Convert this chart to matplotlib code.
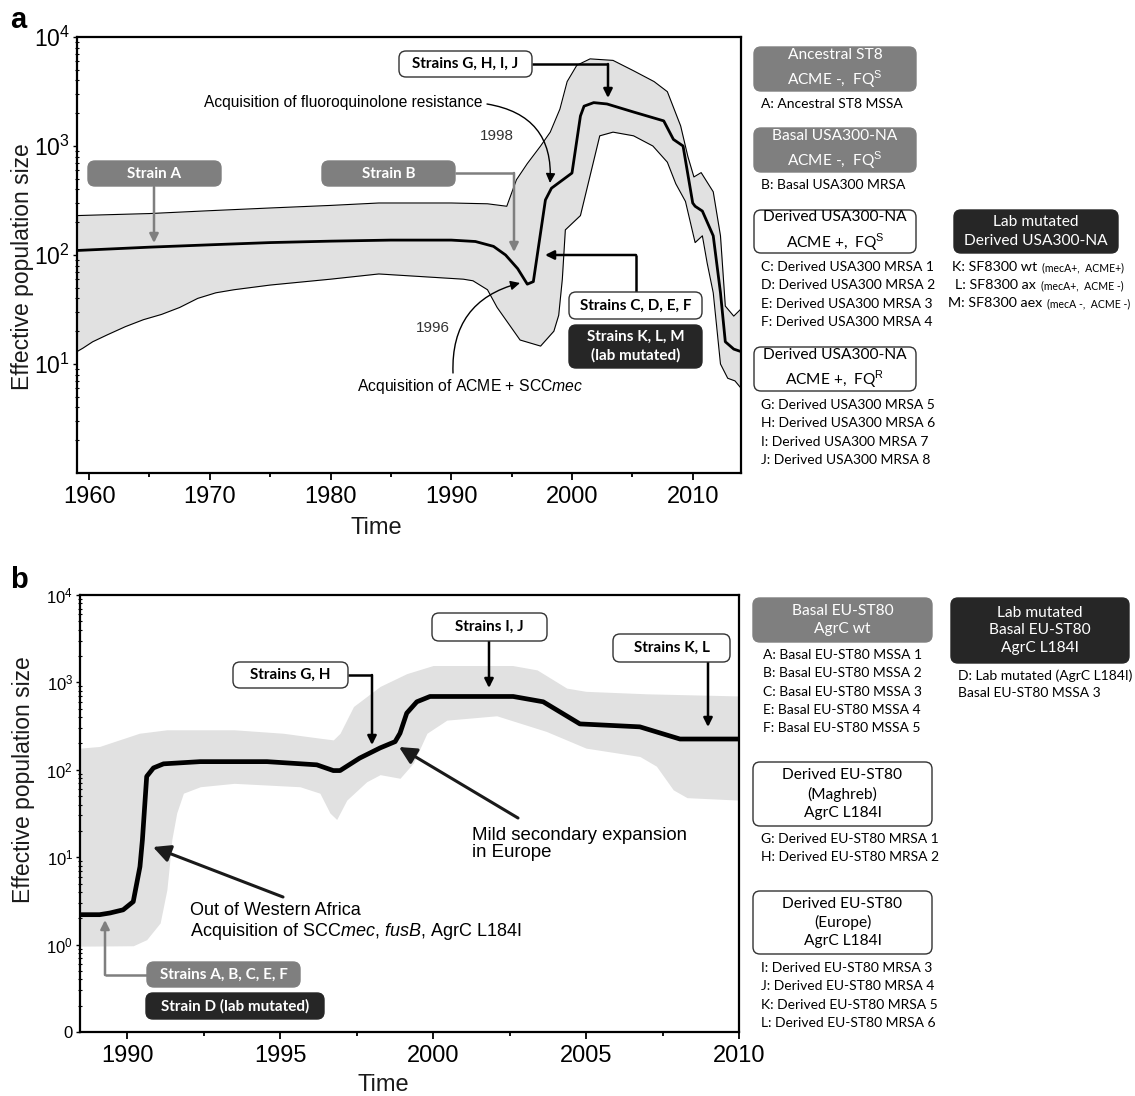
import matplotlib
matplotlib.use("Agg")
import matplotlib.pyplot as plt
from matplotlib.patches import FancyBboxPatch
from matplotlib.ticker import FixedLocator, MultipleLocator, LogLocator, NullFormatter, FixedFormatter
import numpy as np

plt.rcParams['font.family'] = ['Liberation Sans', 'DejaVu Sans']
plt.rcParams['mathtext.fontset'] = 'custom'
plt.rcParams['mathtext.rm'] = 'Liberation Sans'
plt.rcParams['mathtext.it'] = 'Liberation Sans:italic'
plt.rcParams['mathtext.bf'] = 'Liberation Sans:bold'

BOXFONT = ['Lato', 'DejaVu Sans']

# ---------------- Panel a data (USA300) ----------------
a_med_year = [1959, 1965, 1970, 1975, 1980, 1985, 1990, 1992, 1993.5, 1994.5, 1995.5, 1996.3, 1996.8,
              1997.8, 1998.3, 2000.0, 2000.7, 2001.0, 2001.8, 2002.9, 2005.1, 2007.6, 2008.4, 2009.2,
              2010.0, 2010.2, 2010.8, 2011.7, 2012.3, 2012.7, 2013.4, 2014]
a_med_val = [110, 118, 124, 130, 134, 137, 137, 133, 120, 100, 75, 54, 57,
             320, 410, 565, 1885, 2320, 2500, 2430, 2050, 1700, 1150, 1000,
             300, 280, 253, 150, 45, 16, 13.7, 13]

a_up_year = [1959, 1965, 1970, 1975, 1980, 1984, 1990, 1993, 1994.6, 1995.4, 1996.3, 1997.4, 1998.2,
             1999.0, 1999.6, 2000.4, 2001.5, 2003.4, 2005.1, 2006.8, 2007.9, 2009.0, 2009.6, 2010.1,
             2010.7, 2011.7, 2012.3, 2012.7, 2013.4, 2014]
a_up_val = [230, 240, 255, 270, 285, 300, 300, 295, 280, 490, 690, 1000, 1340,
            2180, 3900, 5500, 6300, 6100, 4900, 3900, 3150, 1530, 800, 520,
            570, 380, 150, 34, 27.5, 32]

a_lo_year = [1959, 1959.5, 1960.3, 1961.5, 1963, 1964.5, 1966, 1967.5, 1969, 1970.5, 1972, 1975, 1980,
             1984, 1991.0, 1991.8, 1993.0, 1993.8, 1995.7, 1997.4, 1998.5, 1998.9, 1999.2, 1999.45,
             2000.7, 2002.3, 2003.4, 2005.1, 2006.7, 2007.9, 2008.6, 2009.4, 2010.2, 2010.8, 2011.2,
             2011.7, 2012.3, 2012.9, 2013.5, 2014]
a_lo_val = [13, 14, 16, 18.5, 22, 25.5, 28.5, 33, 40, 45, 48, 53, 60,
            67, 60, 58, 48, 33, 16.6, 14.6, 20, 28, 60, 170,
            230, 1240, 1340, 1240, 1000, 710, 450, 310, 130, 150, 84,
            45, 10, 7.4, 7, 6]

# ---------------- Panel b data (EU-ST80) ----------------
b_med_year = [1988.46, 1989.1, 1989.44, 1989.87, 1990.2, 1990.42, 1990.5, 1990.64, 1990.86, 1991.19,
              1992.39, 1994.57, 1996.2, 1996.74, 1996.96, 1997.6, 1998.27, 1998.76, 1998.92, 1999.14,
              1999.47, 1999.9, 2002.62, 2003.6, 2004.8, 2006.76, 2008.07, 2010]
b_med_val = [2.2, 2.2, 2.3, 2.5, 3.1, 7.8, 15.8, 84, 105, 117,
             124, 124, 114, 98, 98, 136, 178, 210, 262, 445,
             600, 690, 690, 600, 335, 310, 225, 225]

b_up_year = [1988.46, 1989.1, 1990.4, 1991.3, 1993.5, 1995.1, 1996.3, 1996.74, 1996.96, 1997.4, 1998.27,
             1999.14, 2000.0, 2002.6, 2003.4, 2004.37, 2005.0, 2007.0, 2010]
b_up_val = [177, 185, 262, 287, 287, 262, 230, 220, 262, 530, 900,
            1260, 1560, 1560, 1390, 860, 790, 740, 700]

b_lo_year = [1988.46, 1990.2, 1990.64, 1991.08, 1991.3, 1991.4, 1991.46, 1991.62, 1991.84, 1992.39,
             1993.5, 1995.65, 1996.3, 1996.63, 1996.85, 1997.18, 1997.83, 1998.27, 1998.92, 1999.36,
             1999.8, 2000.45, 2002.08, 2003.7, 2005.0, 2006.76, 2007.3, 2007.85, 2008.3, 2010]
b_lo_val = [0.96, 0.97, 1.14, 1.77, 4.25, 9.4, 15.8, 32, 54, 64,
            70, 64, 54, 32, 27, 45, 73, 88, 80, 120,
            262, 370, 415, 275, 177, 142, 110, 59, 48, 45]

a_xticks = [1960, 1970, 1980, 1990, 2000, 2010]
b_xticks = [1990, 1995, 2000, 2005, 2010]
a_yticks = [1e1, 1e2, 1e3, 1e4]
a_ylabels = ['$10^{1}$', '$10^{2}$', '$10^{3}$', '$10^{4}$']
b_yticks = [1e-1, 1e0, 1e1, 1e2, 1e3, 1e4]
b_ylabels = ['0', '$10^{0}$', '$10^{1}$', '$10^{2}$', '$10^{3}$', '$10^{4}$']

W, H = 1135, 1096
fig = plt.figure(figsize=(W / 100, H / 100), dpi=100)
fig.patch.set_facecolor('white')

def px_axes(x0, y0, x1, y1):
    return fig.add_axes([x0 / W, 1 - y1 / H, (x1 - x0) / W, (y1 - y0) / H])

BAND = '#e1e1e1'

# ---- panel a axes ----
axa = px_axes(77, 37, 741, 473)
axa.set_yscale('log')
axa.fill_between(a_up_year, a_up_val, 1e-3, color=BAND, lw=0, zorder=1)
axa.fill_between(a_lo_year, a_lo_val, 1e-3, color='white', lw=0, zorder=1.5)
axa.plot(a_up_year, a_up_val, color='black', lw=0.8, zorder=2)
axa.plot(a_lo_year, a_lo_val, color='black', lw=0.8, zorder=2)
axa.plot(a_med_year, a_med_val, color='black', lw=2.0, zorder=3)
axa.set_xlim(1959, 2014)
axa.set_ylim(1, 1e4)

# ---- panel b axes ----
axb = px_axes(80, 595, 739, 1032)
axb.set_yscale('log')
axb.fill_between(b_up_year, b_up_val, 1e-3, color=BAND, lw=0, zorder=1)
axb.fill_between(b_lo_year, b_lo_val, 1e-3, color='white', lw=0, zorder=1.5)
axb.plot(b_med_year, b_med_val, color='black', lw=3.4, zorder=3, solid_capstyle='butt')
axb.set_xlim(1988.46, 2010)
axb.set_ylim(0.1, 1e4)

for ax, xt, yt, yl, minor_x, ysz in [(axa, a_xticks, a_yticks, a_ylabels, 5, 16.5),
                                     (axb, b_xticks, b_yticks, b_ylabels, 2.5, 12)]:
    ax.xaxis.set_major_locator(FixedLocator(xt))
    ax.xaxis.set_minor_locator(MultipleLocator(minor_x))
    ax.yaxis.set_major_locator(FixedLocator(yt))
    ax.yaxis.set_major_formatter(FixedFormatter(yl))
    ax.yaxis.set_minor_locator(LogLocator(base=10, subs=np.arange(2, 10), numticks=20))
    ax.yaxis.set_minor_formatter(NullFormatter())
    ax.tick_params(axis='x', which='major', direction='out', length=5, width=1.3, labelsize=17, pad=4)
    ax.tick_params(axis='x', which='minor', direction='out', length=3, width=1.3)
    ax.tick_params(axis='y', which='major', direction='out', length=3, width=1.0, labelsize=ysz, pad=2)
    ax.tick_params(axis='y', which='minor', direction='inout', length=2.5, width=0.8)
    for s in ax.spines.values():
        s.set_linewidth(1.6)
    ax.set_ylabel('Effective population size', fontsize=16.5, color='#1a1a1a')
    ax.set_xlabel('Time', fontsize=17, color='#1a1a1a')
    ax.xaxis.label.set_va('center')
    ax.yaxis.label.set_va('center')

axa.yaxis.set_label_coords((23 - 77) / 664, (473 - 267) / 436)
axa.xaxis.set_label_coords((376 - 77) / 664, (473 - 528) / 436)
axb.yaxis.set_label_coords((23 - 80) / 659, (1032 - 780) / 437)
axb.xaxis.set_label_coords((383 - 80) / 659, (1032 - 1085) / 437)

# ---- overlay axes in pixel coordinates for annotations ----
ov = fig.add_axes([0, 0, 1, 1], zorder=10)
ov.set_xlim(0, W)
ov.set_ylim(H, 0)
ov.axis('off')
ov.patch.set_alpha(0)

GRAY = '#7f7f7f'
DARK = '#262626'

def box(x0, y0, x1, y1, text, kind, fs=11.2, bold=False, ls=1.4):
    if kind == 'gray':
        fc, ec, tc = GRAY, GRAY, 'white'
    elif kind == 'dark':
        fc, ec, tc = DARK, DARK, 'white'
    else:
        fc, ec, tc = 'white', '#333333', 'black'
    p = FancyBboxPatch((x0, y0), x1 - x0, y1 - y0,
                       boxstyle='round,pad=0,rounding_size=7',
                       fc=fc, ec=ec, lw=1.0, zorder=20)
    ov.add_patch(p)
    ov.text((x0 + x1) / 2, (y0 + y1) / 2, text, ha='center', va='center',
            multialignment='center', color=tc, fontsize=fs, family=BOXFONT,
            fontweight='bold' if bold else 'normal', linespacing=ls, zorder=21)

def txt(x, y, s, fs=10, ha='left', family=BOXFONT, color='black', **kw):
    return ov.text(x, y, s, ha=ha, va='center', fontsize=fs, family=family, color=color, zorder=21, **kw)

def arrow(points, color='black', lw=1.6, ms=14, head='-|>'):
    xs = [p[0] for p in points]
    ys = [p[1] for p in points]
    if len(points) > 2:
        ov.plot(xs[:-1], ys[:-1], color=color, lw=lw, solid_capstyle='butt', zorder=19)
    ov.annotate('', xy=points[-1], xytext=points[-2],
                arrowprops=dict(arrowstyle=head, color=color, lw=lw, mutation_scale=ms,
                                shrinkA=0, shrinkB=0), zorder=19)

def curved(start, end, rad, color='black', lw=1.0, ms=14):
    ov.annotate('', xy=end, xytext=start,
                arrowprops=dict(arrowstyle='-|>', color=color, lw=lw, mutation_scale=ms,
                                shrinkA=0, shrinkB=0, connectionstyle='arc3,rad=%s' % rad), zorder=19)

# panel labels
ov.text(10, 20, 'a', fontsize=21, fontweight='bold', ha='left', va='center')
ov.text(10, 580, 'b', fontsize=21, fontweight='bold', ha='left', va='center')

# ---- panel a annotations ----
box(88, 161, 221, 186, 'Strain A', 'gray', fs=11, bold=True)
arrow([(154, 187), (154, 243)], color=GRAY, lw=1.8, ms=13)
box(322, 161, 455, 186, 'Strain B', 'gray', fs=11, bold=True)
arrow([(455, 173), (514, 173), (514, 252)], color=GRAY, lw=1.8, ms=13)
box(399, 51, 532, 77, 'Strains G, H, I, J', 'white', fs=11, bold=True)
arrow([(532, 64), (608, 64), (608, 98)], color='black', lw=1.8, ms=13)
box(569, 292, 702, 319, 'Strains C, D, E, F', 'white', fs=11, bold=True)
arrow([(636, 292), (636, 255), (545, 255)], color='black', lw=1.8, ms=13)
box(569, 325, 702, 368, 'Strains K, L, M\n(lab mutated)', 'dark', fs=11, bold=True, ls=1.35)

txt(343, 103, 'Acquisition of fluoroquinolone resistance', fs=11.2, ha='center', family=['Liberation Sans'])
curved((487, 104), (550, 183), -0.45, lw=1.0)
txt(497, 136, '1998', fs=11, ha='center', family=['Liberation Sans'], color='#333333')
txt(433, 328, '1996', fs=11, ha='center', family=['Liberation Sans'], color='#333333')
txt(470, 387, r'Acquisition of ACME + SCC$\mathit{mec}$', fs=11.3, ha='center', family=['Liberation Sans'])
curved((453, 373), (520, 283), -0.4, lw=1.0)

# right side a
box(754, 47, 916, 91, 'Ancestral ST8\nACME -,  FQ$^{\\mathrm{S}}$', 'gray')
txt(761, 104, 'A: Ancestral ST8 MSSA', fs=10)
box(754, 128, 916, 172, 'Basal USA300-NA\nACME -,  FQ$^{\\mathrm{S}}$', 'gray')
txt(761, 185, 'B: Basal USA300 MRSA', fs=10)
box(754, 210, 916, 253, 'Derived USA300-NA\nACME +,  FQ$^{\\mathrm{S}}$', 'white')
for i, s in enumerate(['C: Derived USA300 MRSA 1', 'D: Derived USA300 MRSA 2',
                       'E: Derived USA300 MRSA 3', 'F: Derived USA300 MRSA 4']):
    txt(761, 267 + i * 18.3, s, fs=10)
box(754, 347, 916, 391, 'Derived USA300-NA\nACME +,  FQ$^{\\mathrm{R}}$', 'white')
for i, s in enumerate(['G: Derived USA300 MRSA 5', 'H: Derived USA300 MRSA 6',
                       'I: Derived USA300 MRSA 7', 'J: Derived USA300 MRSA 8']):
    txt(761, 405 + i * 18.3, s, fs=10)
box(954, 210, 1118, 253, 'Lab mutated\nDerived USA300-NA', 'dark')

fig.canvas.draw()
renderer = fig.canvas.get_renderer()
inv = ov.transData.inverted()
for (x, y, main, small) in [(952, 267, 'K: SF8300 wt', '(mecA+,  ACME+)'),
                            (955, 285, 'L: SF8300 ax', '(mecA+,  ACME -)'),
                            (948, 303, 'M: SF8300 aex', '(mecA -,  ACME -)')]:
    t = txt(x, y, main, fs=10.3)
    bb = t.get_window_extent(renderer)
    xe = inv.transform((bb.x1, bb.y0))[0]
    txt(xe + 5, y + 1, small, fs=7.6)

# ---- panel b annotations ----
box(233, 662, 348, 688, 'Strains G, H', 'white', fs=11, bold=True)
arrow([(348, 675), (372, 675), (372, 745)], color='black', lw=1.8, ms=13)
box(432, 613, 547, 641, 'Strains I, J', 'white', fs=11, bold=True)
arrow([(489, 641), (489, 688)], color='black', lw=1.8, ms=13)
box(613, 634, 730, 662, 'Strains K, L', 'white', fs=11, bold=True)
arrow([(708, 662), (708, 727)], color='black', lw=1.8, ms=13)

txt(472, 844, 'Mild secondary expansion\nin Europe', fs=13.4, family=['Liberation Sans'], linespacing=1.05)
arrow([(518, 818), (399, 747)], color='#1a1a1a', lw=2.2, ms=26)
txt(190, 922, 'Out of Western Africa\nAcquisition of SCC$\\mathit{mec}$, $\\mathit{fusB}$, AgrC L184I', fs=13,
    family=['Liberation Sans'], linespacing=1.1)
arrow([(283, 897), (153, 847)], color='#1a1a1a', lw=2.2, ms=26)

box(147, 962, 300, 987, 'Strains A, B, C, E, F', 'gray', fs=11, bold=True)
arrow([(147, 975), (105, 975), (105, 920)], color=GRAY, lw=1.8, ms=13)
box(146, 993, 324, 1019, 'Strain D (lab mutated)', 'dark', fs=11, bold=True)

# right side b
box(753, 598, 932, 642, 'Basal EU-ST80\nAgrC wt', 'gray')
for i, s in enumerate(['A: Basal EU-ST80 MSSA 1', 'B: Basal EU-ST80 MSSA 2', 'C: Basal EU-ST80 MSSA 3',
                       'E: Basal EU-ST80 MSSA 4', 'F: Basal EU-ST80 MSSA 5']):
    txt(763, 655 + i * 18.3, s, fs=10)
box(753, 762, 932, 826, 'Derived EU-ST80\n(Maghreb)\nAgrC L184I', 'white', ls=1.35)
for i, s in enumerate(['G: Derived EU-ST80 MRSA 1', 'H: Derived EU-ST80 MRSA 2']):
    txt(761, 839 + i * 18.3, s, fs=10)
box(753, 891, 932, 954, 'Derived EU-ST80\n(Europe)\nAgrC L184I', 'white', ls=1.35)
for i, s in enumerate(['I: Derived EU-ST80 MRSA 3', 'J: Derived EU-ST80 MRSA 4',
                       'K: Derived EU-ST80 MRSA 5', 'L: Derived EU-ST80 MRSA 6']):
    txt(761, 968 + i * 18.3, s, fs=10)
box(951, 598, 1129, 663, 'Lab mutated\nBasal EU-ST80\nAgrC L184I', 'dark', ls=1.35)
txt(958, 676, 'D: Lab mutated (AgrC L184I)', fs=10)
txt(958, 693, 'Basal EU-ST80 MSSA 3', fs=10)

fig.savefig('out.png', dpi=100, facecolor='white')
